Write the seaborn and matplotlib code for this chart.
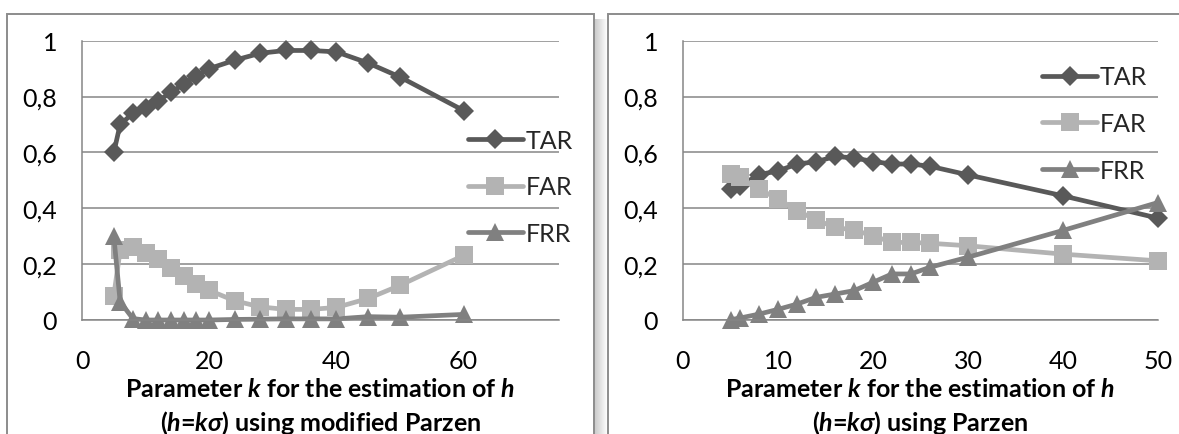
import matplotlib
matplotlib.use("Agg")
import matplotlib.pyplot as plt
import seaborn as sns
from matplotlib.patches import Rectangle

# ---------------- data ----------------
k_mod = [5, 6, 8, 10, 12, 14, 16, 18, 20, 24, 28, 32, 36, 40, 45, 50, 60]
tar_mod = [0.60, 0.70, 0.74, 0.76, 0.785, 0.815, 0.845, 0.875, 0.90, 0.93, 0.955, 0.965, 0.965, 0.96, 0.92, 0.87, 0.75]
far_mod = [0.087, 0.25, 0.26, 0.24, 0.217, 0.185, 0.159, 0.129, 0.106, 0.069, 0.047, 0.038, 0.038, 0.045, 0.077, 0.124, 0.231]
frr_mod = [0.30, 0.065, 0.005, 0.0, 0.0, 0.0, 0.0, 0.0, 0.0, 0.002, 0.003, 0.004, 0.004, 0.004, 0.012, 0.01, 0.02]

k_par = [5, 6, 8, 10, 12, 14, 16, 18, 20, 22, 24, 26, 30, 40, 50]
tar_par = [0.47, 0.48, 0.52, 0.533, 0.558, 0.566, 0.585, 0.58, 0.567, 0.558, 0.558, 0.55, 0.519, 0.444, 0.364]
far_par = [0.522, 0.51, 0.468, 0.433, 0.391, 0.358, 0.331, 0.321, 0.301, 0.277, 0.277, 0.274, 0.265, 0.235, 0.211]
frr_par = [0.0, 0.006, 0.02, 0.037, 0.056, 0.08, 0.092, 0.104, 0.134, 0.164, 0.164, 0.188, 0.224, 0.32, 0.42]

series_names = ["TAR", "FAR", "FRR"]
y_ticks = [0, 0.2, 0.4, 0.6, 0.8, 1.0]
y_tick_labels = ["0", "0,2", "0,4", "0,6", "0,8", "1"]
x_ticks_mod = [0, 20, 40, 60]
x_ticks_par = [0, 10, 20, 30, 40, 50]
label_mod = [r"Parameter $\mathbfit{k}$ for the estimation of $\mathbfit{h}$",
             r"($\mathbfit{h}$=$\mathbfit{kσ}$) using modified Parzen"]
label_par = [r"Parameter $\mathbfit{k}$ for the estimation of $\mathbfit{h}$",
             r"($\mathbfit{h}$=$\mathbfit{kσ}$) using Parzen"]

# ---------------- style ----------------
sns.set_theme(style="white")
plt.rcParams["font.family"] = ["Lato", "DejaVu Sans"]
plt.rcParams["mathtext.fontset"] = "custom"
plt.rcParams["mathtext.rm"] = "Lato"
plt.rcParams["mathtext.bf"] = "Lato:bold"
plt.rcParams["mathtext.it"] = "Lato:italic"
plt.rcParams["mathtext.bfit"] = "Lato:italic:bold"

colors = {"TAR": "#595959", "FAR": "#b3b3b3", "FRR": "#808080"}
markers = {"TAR": "D", "FAR": "s", "FRR": "^"}
msizes = {"TAR": 10, "FAR": 13, "FRR": 13.5}
GRID = "#868686"
FS = 18

W, H = 1179, 435
fig = plt.figure(figsize=(W / 100, H / 100), dpi=100)
fig.patch.set_facecolor("white")

def px(x0, y0, x1, y1):
    return (x0 / W, 1 - y1 / H, (x1 - x0) / W, (y1 - y0) / H)

# panel frames
l, b, w, h = px(7, 15, 594, 460)
fig.add_artist(Rectangle((l, b), w, h, transform=fig.transFigure, fill=False,
                         edgecolor="#8c8c8c", linewidth=1.4))
for i in range(12):
    l2, b2, w2, h2 = px(595 + i, 20, 596 + i, 460)
    fig.add_artist(Rectangle((l2, b2), w2, h2, transform=fig.transFigure,
                             facecolor="#707070", edgecolor="none", alpha=0.35 * (1 - i / 12)))
l, b, w, h = px(608, 15, 1200, 460)
fig.add_artist(Rectangle((l, b), w, h, transform=fig.transFigure, fill=False,
                         edgecolor="#8c8c8c", linewidth=1.4))

ax1 = fig.add_axes(px(82, 41.7, 559, 321))
ax2 = fig.add_axes(px(683, 41.7, 1158, 320.7))

def draw(ax, k, vals, xlim, xticks, labels, leg_anchor):
    for name, v in zip(series_names, vals):
        sns.lineplot(x=k, y=v, ax=ax, color=colors[name], marker=markers[name],
                     markersize=msizes[name], markeredgewidth=0, linewidth=3.4,
                     label=name, clip_on=False, errorbar=None, sort=False)
    ax.set_xlim(*xlim)
    ax.set_ylim(0, 1)
    ax.set_xticks(xticks)
    ax.set_xticklabels([str(t) for t in xticks])
    ax.set_yticks(y_ticks)
    ax.set_yticklabels(y_tick_labels)
    ax.set_axisbelow(True)
    ax.yaxis.grid(True, color=GRID, linewidth=1.1)
    ax.xaxis.grid(False)
    for s in ["top", "right"]:
        ax.spines[s].set_visible(False)
    for s in ["left", "bottom"]:
        ax.spines[s].set_color(GRID)
        ax.spines[s].set_linewidth(1.1)
    ax.tick_params(axis="both", direction="out", length=6, width=1.1, color=GRID,
                   labelsize=FS, labelcolor="black")
    ax.tick_params(axis="y", pad=12)
    ax.tick_params(axis="x", pad=15)
    ax.set_xlabel("")
    ax.set_ylabel("")
    ax.text(0.5, -0.245, labels[0], transform=ax.transAxes, ha="center", va="center",
            fontsize=FS, fontweight="bold", color="black")
    ax.text(0.5, -0.365, labels[1], transform=ax.transAxes, ha="center", va="center",
            fontsize=FS, fontweight="bold", color="black")
    ax.legend(loc="upper left", bbox_to_anchor=leg_anchor, frameon=False, fontsize=FS,
              handlelength=2.2, handletextpad=0.12, labelspacing=0.95, borderpad=0,
              borderaxespad=0)

draw(ax1, k_mod, [tar_mod, far_mod, frr_mod], (0, 75), x_ticks_mod, label_mod, (0.809, 0.685))
draw(ax2, k_par, [tar_par, far_par, frr_par], (0, 50), x_ticks_par, label_par, (0.756, 0.912))

fig.savefig("out.png", dpi=100, facecolor="white")
